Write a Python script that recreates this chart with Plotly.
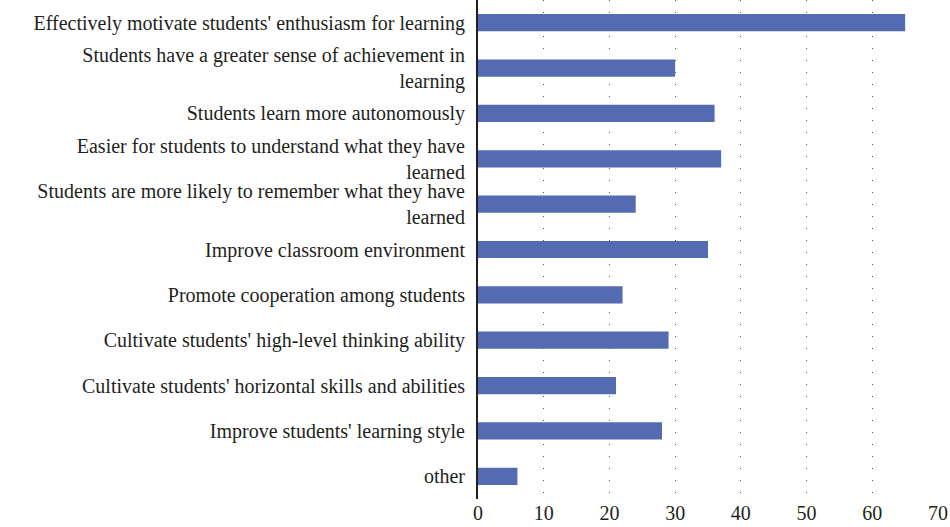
import plotly.graph_objects as go

categories = [
    "Effectively motivate students' enthusiasm for learning",
    "Students have a greater sense of achievement in<br>learning",
    "Students learn more autonomously",
    "Easier for students to understand what they have<br>learned",
    "Students are more likely to remember what they have<br>learned",
    "Improve classroom environment",
    "Promote cooperation among students",
    "Cultivate students' high-level thinking ability",
    "Cultivate students' horizontal skills and abilities",
    "Improve students' learning style",
    "other",
]
values = [65, 30, 36, 37, 24, 35, 22, 29, 21, 28, 6]
x_ticks = [0, 10, 20, 30, 40, 50, 60, 70]

fig = go.Figure(go.Bar(
    x=values, y=categories, orientation="h",
    marker=dict(color="#546bb1", line=dict(width=0)),
    width=0.38,
))

family = "Liberation Serif, Times New Roman, serif"
yfont = dict(family=family, size=20, color="#231f20")
xfont = dict(family=family, size=20, color="#231f20")

fig.update_layout(
    width=950, height=527,
    margin=dict(l=478, r=12, t=0, b=28, autoexpand=False),
    paper_bgcolor="white", plot_bgcolor="white",
    font=yfont,
    showlegend=False,
    bargap=0.6,
)
fig.update_xaxes(
    range=[0, 70], tickvals=x_ticks, ticktext=[str(v) for v in x_ticks],
    showgrid=True, gridcolor="#555555", gridwidth=1, griddash="1px,11px",
    zeroline=False, showline=False, ticks="", tickfont=xfont, automargin=False,
)
fig.update_yaxes(
    autorange="reversed", showline=True, linecolor="#231f20", linewidth=2,
    showgrid=False, ticks="", ticklabelstandoff=7, tickfont=yfont, automargin=False,
)
fig.write_html("out.html", config={"displayModeBar": False},
               post_script="document.body.style.margin='0';")
